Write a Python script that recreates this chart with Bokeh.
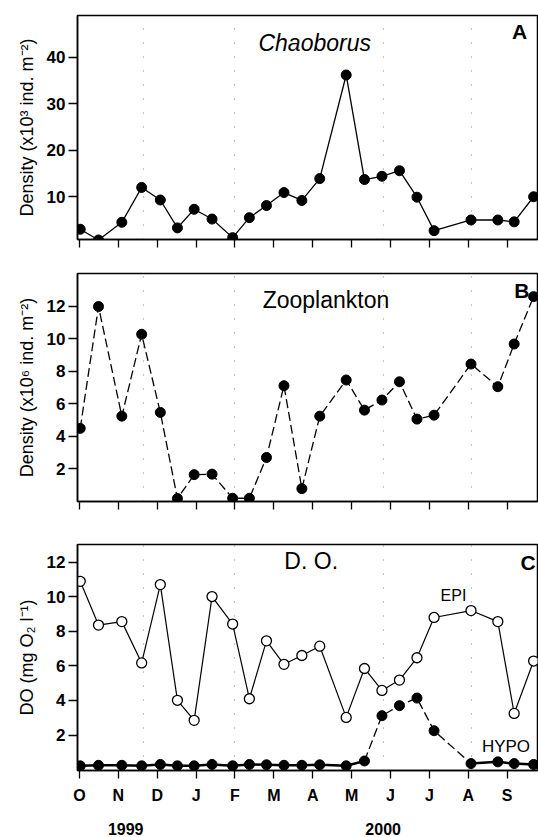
from bokeh.plotting import figure
from bokeh.layouts import column
from bokeh.models import Range1d, FixedTicker, LinearAxis, Label
from bokeh.embed import file_html
from bokeh.resources import INLINE

# ---------------- data ----------------
month_labels = ["O", "N", "D", "J", "F", "M", "A", "M", "J", "J", "A", "S"]
month_ticks = list(range(12))
year_labels = {119: "1999", 781: "2000"}  # positions in hundredths of a month

sample_dates = [0.02, 0.49, 1.09, 1.60, 2.08, 2.52, 2.95, 3.41, 3.94, 4.37, 4.81, 5.26,
                5.72, 6.18, 6.86, 7.33, 7.78, 8.23, 8.68, 9.12, 10.07, 10.76, 11.18, 11.68]
chaoborus = [3.0, 0.7, 4.5, 12.0, 9.3, 3.3, 7.3, 5.2, 1.2, 5.5, 8.1, 10.9,
             9.2, 13.9, 36.2, 13.7, 14.4, 15.6, 9.9, 2.7, 5.0, 5.0, 4.6, 10.0]
zooplankton = [4.49, 11.97, 5.24, 10.27, 5.47, 0.18, 1.65, 1.68, 0.20, 0.20, 2.70, 7.11,
               0.79, 5.24, 7.46, 5.61, 6.23, 7.35, 5.06, 5.30, 8.44, 7.05, 9.67, 12.58]
do_epi = [10.89, 8.36, 8.56, 6.17, 10.70, 4.01, 2.85, 10.01, 8.42, 4.10, 7.45, 6.09,
          6.60, 7.14, 3.02, 5.85, 4.58, 5.18, 6.47, 8.80, 9.20, 8.56, 3.25, 6.28]
do_hypo = [0.22, 0.25, 0.25, 0.22, 0.30, 0.22, 0.22, 0.30, 0.22, 0.30, 0.28, 0.25,
           0.25, 0.28, 0.22, 0.50, 3.12, 3.70, 4.14, 2.25, 0.35, 0.45, 0.35, 0.30]

# faint dotted vertical guide lines (style)
guide_lines = [1.65, 3.98, 7.83, 10.07]

FONT = "Liberation Sans"
X0, X1 = -0.05, 11.78


def make_fig(height, top, bottom, y0, y1, yticks, ylabel):
    p = figure(width=538, height=height, x_range=Range1d(X0, X1), y_range=Range1d(y0, y1),
               output_backend="svg", toolbar_location=None,
               min_border_left=77, min_border_right=1,
               min_border_top=top, min_border_bottom=bottom)
    p.background_fill_color = "white"
    p.border_fill_color = "white"
    p.outline_line_color = "black"
    p.outline_line_width = 1.5
    p.ygrid.visible = False
    p.xgrid.ticker = FixedTicker(ticks=guide_lines)
    p.xgrid.grid_line_color = "#8a8a8a"
    p.xgrid.grid_line_dash = "1 13"
    p.xgrid.grid_line_width = 1.2

    p.yaxis.ticker = FixedTicker(ticks=yticks)
    p.yaxis.axis_label = ylabel
    p.yaxis.axis_label_text_font = FONT
    p.yaxis.axis_label_text_font_size = "18px"
    p.yaxis.axis_label_text_font_style = "normal"
    p.yaxis.axis_label_text_color = "black"
    p.yaxis.axis_label_standoff = 7
    p.yaxis.major_label_text_font = FONT
    p.yaxis.major_label_text_font_size = "17px"
    p.yaxis.major_label_text_font_style = "bold"
    p.yaxis.major_label_text_color = "black"
    p.yaxis.major_label_standoff = 3
    p.yaxis.major_tick_out = 9
    p.yaxis.major_tick_in = 0
    p.yaxis.minor_tick_line_color = None
    p.yaxis.axis_line_width = 1.5
    p.yaxis.major_tick_line_width = 1.3

    p.xaxis.ticker = FixedTicker(ticks=month_ticks)
    p.xaxis.major_tick_out = 8
    p.xaxis.major_tick_in = 0
    p.xaxis.minor_tick_line_color = None
    p.xaxis.axis_line_width = 1.5
    p.xaxis.major_tick_line_width = 1.3
    p.xaxis.major_label_text_color = "black"
    return p


def add_label(p, x, y, text, size, style="normal"):
    p.add_layout(Label(x=x, y=y, text=text, text_font=FONT, text_font_size=size,
                       text_font_style=style, text_align="center", text_baseline="middle",
                       text_color="black"))


def blank_month_axis(p):
    p.xaxis.major_label_overrides = {i: "" for i in month_ticks}
    p.xaxis.major_label_text_font_size = "1px"
    p.xaxis.major_label_standoff = 0


# ---------------- panel A ----------------
pa = make_fig(258, 15, 19, 0.8, 49, [10, 20, 30, 40], "Density (x10³ ind. m⁻²)")
blank_month_axis(pa)
pa.line(sample_dates, chaoborus, line_color="black", line_width=1.3)
pa.scatter(sample_dates, chaoborus, size=10, fill_color="black", line_color="black")
add_label(pa, 6.05, 43.1, "Chaoborus", "23px", "italic")
add_label(pa, 11.32, 45.6, "A", "21px", "bold")

# ---------------- panel B ----------------
pb = make_fig(264, 15, 21, 0.0, 14.0, [2, 4, 6, 8, 10, 12], "Density (x10⁶ ind. m⁻²)")
blank_month_axis(pb)
pb.line(sample_dates, zooplankton, line_color="black", line_width=1.3, line_dash="9 4")
pb.scatter(sample_dates, zooplankton, size=10, fill_color="black", line_color="black")
add_label(pb, 6.34, 12.38, "Zooplankton", "23px")
add_label(pb, 11.38, 12.94, "B", "21px", "bold")

# ---------------- panel C ----------------
pc = make_fig(315, 22, 63, -0.05, 13.02, [2, 4, 6, 8, 10, 12], "DO (mg O₂ l⁻¹)")
pc.xaxis.major_label_overrides = {i: m for i, m in zip(month_ticks, month_labels)}
pc.xaxis.major_label_text_font = FONT
pc.xaxis.major_label_text_font_size = "16px"
pc.xaxis.major_label_text_font_style = "bold"
pc.xaxis.major_label_standoff = 8

pc.extra_x_ranges = {"yr": Range1d(X0 * 100, X1 * 100)}
yr_axis = LinearAxis(x_range_name="yr", ticker=FixedTicker(ticks=list(year_labels.keys())),
                     major_label_overrides=year_labels,
                     axis_line_color=None, major_tick_line_color=None, minor_tick_line_color=None,
                     major_label_text_font=FONT, major_label_text_font_size="16px",
                     major_label_text_font_style="bold", major_label_text_color="black",
                     major_label_standoff=10)
pc.add_layout(yr_axis, "below")

hs1 = slice(0, 16)
hd = slice(15, 21)
hs2 = slice(20, 24)
pc.line(sample_dates[hs1], do_hypo[hs1], line_color="black", line_width=2.5)
pc.line(sample_dates[hd], do_hypo[hd], line_color="black", line_width=1.3, line_dash="9 4")
pc.line(sample_dates[hs2], do_hypo[hs2], line_color="black", line_width=2.5)
pc.scatter(sample_dates, do_hypo, size=10, fill_color="black", line_color="black")

pc.line(sample_dates, do_epi, line_color="black", line_width=1.2)
pc.scatter(sample_dates, do_epi, size=10, fill_color="white", line_color="black", line_width=1.3)

add_label(pc, 5.96, 12.06, "D. O.", "23px")
add_label(pc, 11.54, 12.0, "C", "21px", "bold")
add_label(pc, 9.62, 10.05, "EPI", "16px")
add_label(pc, 10.97, 1.36, "HYPO", "17px")

layout = column(pa, pb, pc, spacing=0)

with open("out.html", "w") as f:
    f.write(file_html(layout, INLINE))
